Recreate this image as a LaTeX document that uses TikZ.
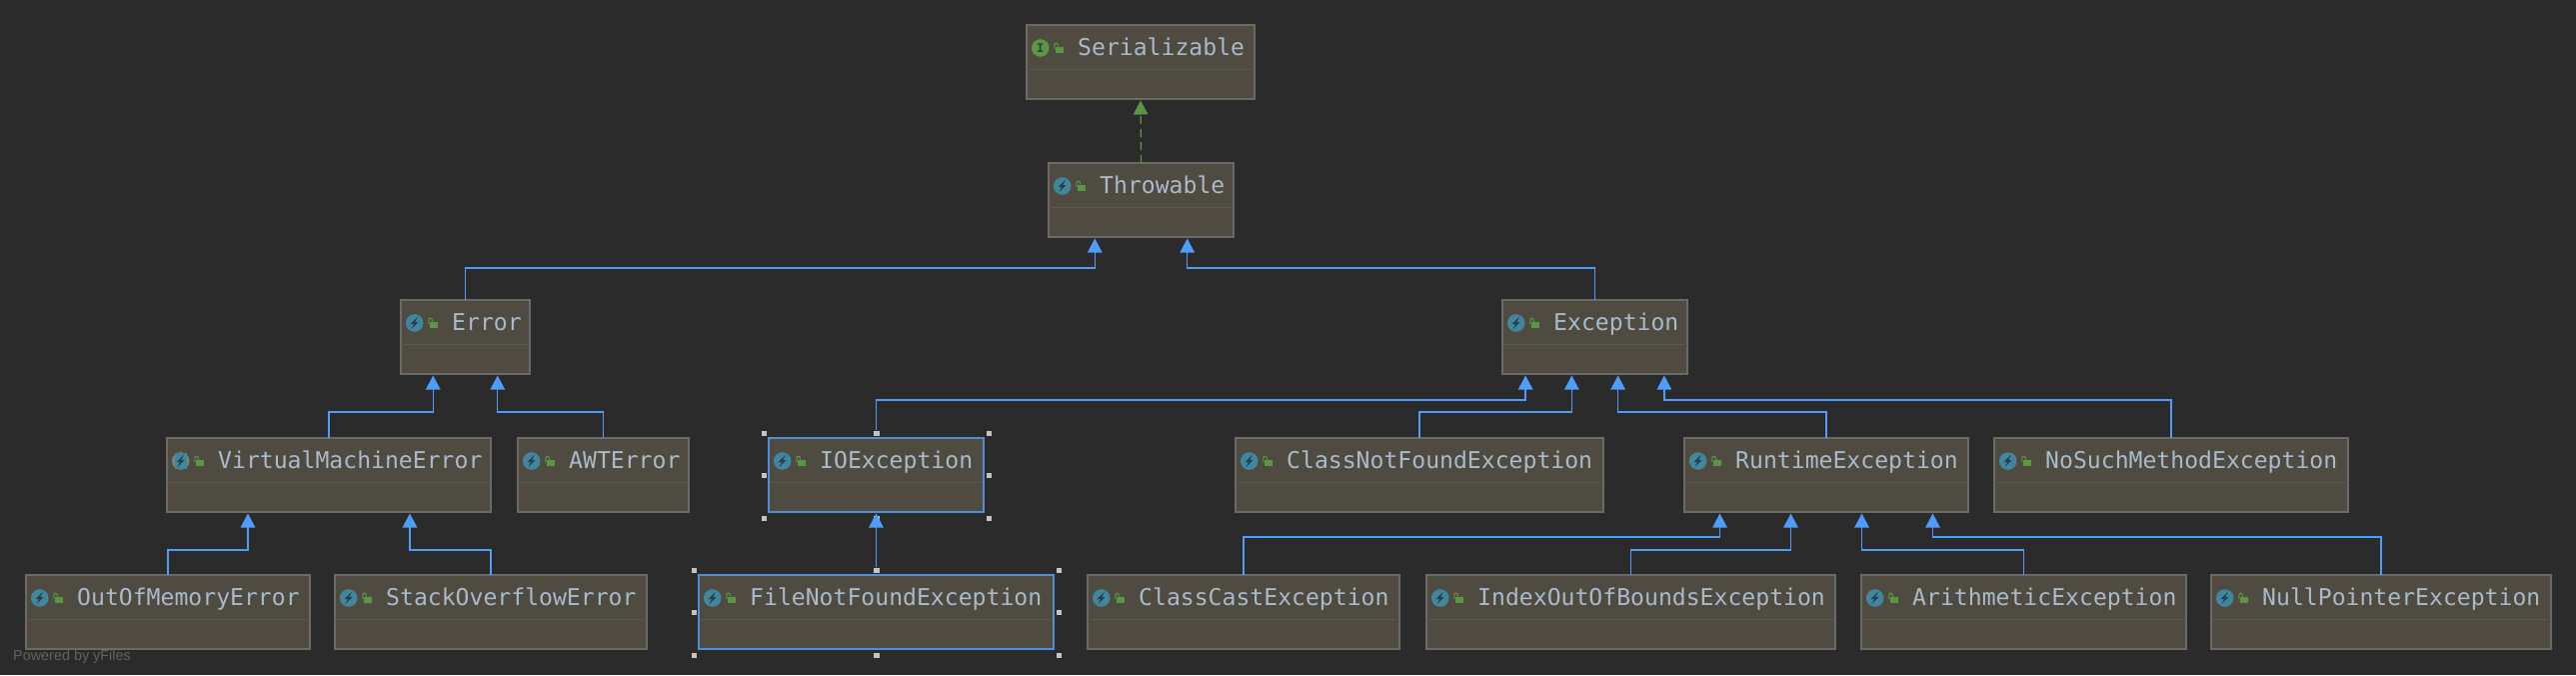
\documentclass[tikz,border=0pt]{standalone}
\usepackage{fontspec}
\setmonofont{DejaVu Sans Mono}
\setsansfont{Liberation Sans}
\usepackage{xcolor}
\usetikzlibrary{arrows.meta,calc}

\definecolor{canvasbg}{HTML}{2B2B2B}
\definecolor{boxfill}{HTML}{4F4B41}
\definecolor{boxline}{HTML}{6B6A66}
\definecolor{boxsplit}{HTML}{5A5850}
\definecolor{selectline}{HTML}{4F8FD6}
\definecolor{classname}{HTML}{A9BACB}
\definecolor{extendblue}{HTML}{4F9CFA}
\definecolor{implgreen}{HTML}{5B9645}
\definecolor{iconteal}{HTML}{40869F}
\definecolor{icondark}{HTML}{2B3F47}
\definecolor{handlefill}{HTML}{C4C4C4}
\definecolor{yfilesgrey}{HTML}{626262}

% one class box: [icon pic] name, left, top, width, text
\newcommand{\umlclass}[6][classmark]{
    \node[classbox, minimum width=#5pt] (#2) at (#3,#4) {};
    \draw[boxdivider] ([yshift=-44pt]#2.north west) -- ([yshift=-44pt]#2.north east);
    \node[classlabel] (#2-label) at ([xshift=51pt,yshift=-30pt]#2.north west) {#6};
    \pic at ([xshift=13.7pt,yshift=-23pt]#2.north west) {#1};
    \pic at ([xshift=33pt,yshift=-23pt]#2.north west) {openlock};
}
% connector: child, parent, port fraction, height of the bend
\newcommand{\extends}[4]{
    \draw[extendline] (#1.north) -- (#1.north |- 0,#4) -| ($(#2.south west)!#3!(#2.south east)$);
}
% handles round a selected box
\newcommand{\selecthandles}[1]{
    \foreach \anc/\dx/\dy in {north west/-5/-5, north/0/-5, north east/5/-5, west/-5/0,
                              east/5/0, south west/-5/6, south/0/6, south east/5/6}
        \node[handle] at ([shift={(\dx,\dy)}]#1.\anc) {};
}

\begin{document}
\begin{tikzpicture}[
    x = 1pt,
    y = -1pt,
    classbox/.style={rectangle, draw=boxline, fill=boxfill, line width=1.2pt,
        anchor=north west, minimum height=74pt, inner sep=0pt, outer sep=0pt},
    selected/.style={draw=selectline},
    boxdivider/.style={draw=boxsplit, line width=1pt},
    classlabel/.style={anchor=base west, inner sep=0pt, text=classname,
        font=\ttfamily\fontsize{23.1}{26}\selectfont},
    extendline/.style={draw=extendblue, line width=1.3pt, shorten >=1.5pt,
        -{Triangle[length=14pt,width=14.5pt]}},
    implline/.style={draw=implgreen, line width=1.3pt, shorten >=1.5pt, dash pattern=on 8pt off 5pt,
        -{Triangle[length=14pt,width=14.5pt,fill=implgreen,sep=0pt]}},
    handle/.style={rectangle, fill=handlefill, draw=canvasbg, line width=0.4pt,
        minimum size=6.5pt, inner sep=0pt},
    classmark/.pic={
        \fill[iconteal] (0,0) circle (8.8);
        \fill[icondark] (3.2,-6.2) -- (-4,1) -- (-0.6,1) -- (-3.2,6.2) -- (4,-1) -- (0.6,-1) -- cycle;
    },
    abstractmark/.pic={
        \fill[gray] (0,0) circle (8.8);
        \fill[iconteal] (-6,-8.4) rectangle (6,8.4);
        \fill[icondark] (3.2,-6.2) -- (-4,1) -- (-0.6,1) -- (-3.2,6.2) -- (4,-1) -- (0.6,-1) -- cycle;
    },
    ifacemark/.pic={
        \fill[implgreen] (0,0) circle (8.8);
        \node[text=icondark, inner sep=0pt, font=\ttfamily\bfseries\fontsize{12}{12}\selectfont] (letter) at (0,0) {I};
    },
    openlock/.pic={
        \fill[implgreen] (-4,-1.3) rectangle (4,5);
        \draw[implgreen, line width=1.1pt] (-5.2,1) -- (-5.2,-2.6) .. controls (-5.2,-5.8) and (-1.6,-5.8) .. (-1.3,-1.5);
    }
]
    \useasboundingbox (0,0) rectangle (2577,675);
    \fill[canvasbg] (0,0) rectangle (2577,675);

    \umlclass[ifacemark]{serializable}{1027}{25}{228}{Serializable}
    \umlclass{throwable}{1049}{163}{185}{Throwable}

    \umlclass{error}{401}{300}{129}{Error}
    \umlclass{exception}{1503}{300}{185}{Exception}

    \umlclass[abstractmark]{vmerror}{167}{438}{324}{VirtualMachineError}
    \umlclass{awterror}{518}{438}{171}{AWTError}
    \umlclass{ioexc}{769}{438}{215}{IOException}
    \umlclass{cnfexc}{1236}{438}{368}{ClassNotFoundException}
    \umlclass{runtimeexc}{1685}{438}{284}{RuntimeException}
    \umlclass{nsmexc}{1995}{438}{354}{NoSuchMethodException}

    \umlclass{oomerror}{26}{575}{284}{OutOfMemoryError}
    \umlclass{soerror}{335}{575}{312}{StackOverflowError}
    \umlclass{fnfexc}{699}{575}{355}{FileNotFoundException}
    \umlclass{ccexc}{1088}{575}{312}{ClassCastException}
    \umlclass{ioobexc}{1427}{575}{409}{IndexOutOfBoundsException}
    \umlclass{arithexc}{1862}{575}{325}{ArithmeticException}
    \umlclass{npexc}{2212}{575}{340}{NullPointerException}

    \node[classbox, selected, minimum width=215pt, fill=none] (ioframe) at (769,438) {};
    \node[classbox, selected, minimum width=355pt, fill=none] (fnfframe) at (699,575) {};

    \draw[implline] (throwable.north) -- (serializable.south);
    \extends{error}{throwable}{.25}{268}
    \extends{exception}{throwable}{.75}{268}
    \extends{vmerror}{error}{.25}{412}
    \extends{awterror}{error}{.75}{412}
    \extends{oomerror}{vmerror}{.25}{550}
    \extends{soerror}{vmerror}{.75}{550}
    \extends{ioexc}{exception}{.125}{400}
    \extends{cnfexc}{exception}{.375}{412}
    \extends{runtimeexc}{exception}{.625}{412}
    \extends{nsmexc}{exception}{.875}{400}
    \extends{ccexc}{runtimeexc}{.125}{537}
    \extends{ioobexc}{runtimeexc}{.375}{550}
    \extends{arithexc}{runtimeexc}{.625}{550}
    \extends{npexc}{runtimeexc}{.875}{537}

    \selecthandles{ioexc}
    \draw[extendline] (fnfexc.north) -- (ioexc.south);
    \selecthandles{fnfexc}

    \node[anchor=base west, inner sep=0pt, text=yfilesgrey, font=\sffamily\fontsize{14.4}{16}\selectfont] (poweredby) at (13,660) {Powered by yFiles};
\end{tikzpicture}
\end{document}
